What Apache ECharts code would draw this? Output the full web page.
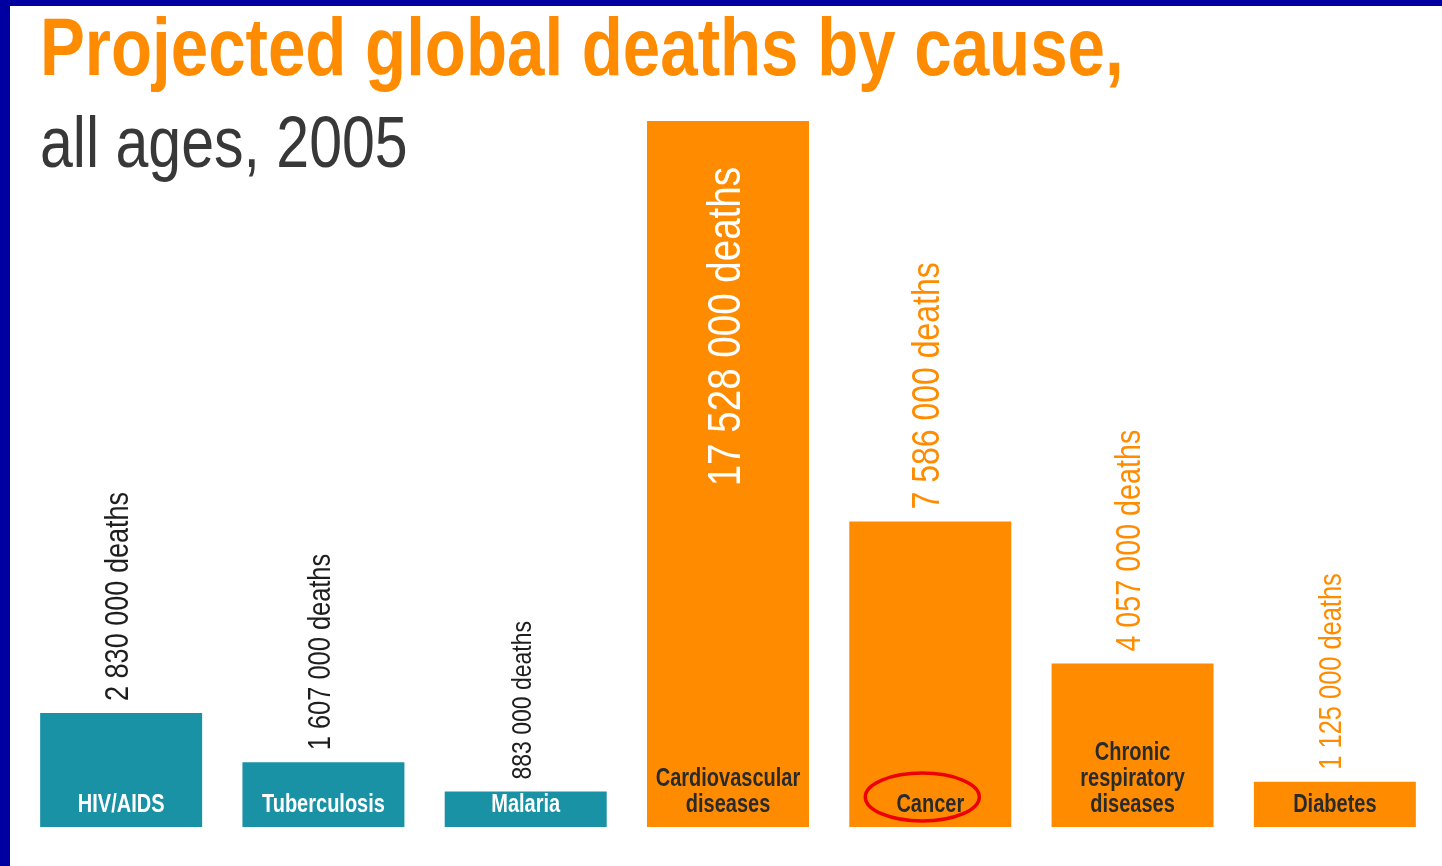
<!DOCTYPE html>
<html>
<head>
<meta charset="utf-8">
<script src="https://cdn.jsdelivr.net/npm/echarts@6/dist/echarts.min.js"></script>
<style>
  html, body { margin: 0; padding: 0; background: #fff; }
  #wrap { position: relative; width: 1442px; height: 866px; overflow: hidden; background: #fff; }
  #chart { position: absolute; left: 0; top: 0; width: 1442px; height: 866px; }
  #bt { position: absolute; left: 0; top: 0; width: 1442px; height: 6px; background: #0000A0; z-index: 5; }
  #bl { position: absolute; left: 0; top: 0; width: 10px; height: 866px; background: #0000A0; z-index: 5; }
</style>
</head>
<body>
<div id="wrap"><div id="chart"></div><div id="bt"></div><div id="bl"></div></div>
<script>
// ---- data ----
const titleText = 'Projected global deaths by cause,';
const subtitleText = 'all ages, 2005';
const categories = ['HIV/AIDS', 'Tuberculosis', 'Malaria', 'Cardiovascular\ndiseases', 'Cancer', 'Chronic\nrespiratory\ndiseases', 'Diabetes'];
const deaths = [2830000, 1607000, 883000, 17528000, 7586000, 4057000, 1125000];
const groups = ['communicable', 'communicable', 'communicable', 'chronic', 'chronic', 'chronic', 'chronic'];
const highlighted = 'Cancer';

// ---- styles ----
const TEAL = '#1A92A6';
const ORANGE = '#FF8C00';
const FONT = '"Liberation Sans", Arial, sans-serif';
const NARROW = 0.82;                       // horizontal squeeze to mimic a condensed face
const labelSizes = [33, 31, 28, 47, 39, 35, 31];

function fmt(v) {
  return String(v).replace(/\B(?=(\d{3})+(?!\d))/g, ' ') + ' deaths';
}

const maxIdx = deaths.indexOf(Math.max(...deaths));

const chart = echarts.init(document.getElementById('chart'), null, { renderer: 'canvas' });

const option = {
  backgroundColor: '#ffffff',
  animation: false,
  grid: { left: 20, right: 6, top: 121, bottom: 39, containLabel: false },
  xAxis: {
    type: 'category',
    data: categories,
    axisLine: { show: false },
    axisTick: { show: false },
    axisLabel: { show: false }
  },
  yAxis: { type: 'value', min: 0, max: 'dataMax', show: false, splitLine: { show: false } },
  series: [{
    type: 'bar',
    data: deaths.map((v, i) => ({
      value: v,
      itemStyle: { color: groups[i] === 'communicable' ? TEAL : ORANGE }
    })),
    barWidth: 162,
    z: 2
  }, {
    type: 'custom',
    data: deaths.map((v, i) => [i, v]),
    z: 5,
    silent: true,
    renderItem: function (params, api) {
      const i = api.value(0);
      const v = api.value(1);
      const top = api.coord([i, v]);
      const base = api.coord([i, 0]);
      const comm = groups[i] === 'communicable';
      const inside = i === maxIdx;
      const valueLabel = inside ? {
        type: 'text',
        x: top[0] - 1, y: top[1] + 46,
        rotation: Math.PI / 2, scaleX: NARROW,
        style: { text: fmt(v), fill: '#ffffff', font: labelSizes[i] + 'px ' + FONT,
                 align: 'right', verticalAlign: 'middle' }
      } : {
        type: 'text',
        x: top[0] - 2, y: top[1] - 12,
        rotation: Math.PI / 2, scaleX: NARROW,
        style: { text: fmt(v), fill: comm ? '#1e1e1e' : ORANGE, font: labelSizes[i] + 'px ' + FONT,
                 align: 'left', verticalAlign: 'middle' }
      };
      const catLabel = {
        type: 'text',
        x: base[0], y: base[1] - 9,
        scaleX: 0.80,
        style: { text: categories[i], fill: comm ? '#ffffff' : '#2a2a2a',
                 font: 'bold 25px ' + FONT, lineHeight: 26,
                 align: 'center', verticalAlign: 'bottom' }
      };
      return { type: 'group', children: [valueLabel, catLabel] };
    }
  }],
  graphic: [
    { id: 'title', type: 'text', x: 40, y: 11, scaleX: NARROW, z: 50,
      style: { text: titleText, fill: ORANGE, font: 'bold 82px ' + FONT, align: 'left', verticalAlign: 'top' } },
    { id: 'subtitle', type: 'text', x: 40, y: 111, scaleX: NARROW, z: 50,
      style: { text: subtitleText, fill: '#383838', font: '72px ' + FONT, align: 'left', verticalAlign: 'top' } }
  ]
};
chart.setOption(option);

// red annotation ellipse around the highlighted category name
const hiIdx = categories.indexOf(highlighted);
const p = chart.convertToPixel({ xAxisIndex: 0, yAxisIndex: 0 }, [hiIdx, 0]);
chart.setOption({
  graphic: [{
    id: 'highlight', type: 'ellipse', z: 100,
    shape: { cx: p[0] - 8, cy: p[1] - 30, rx: 57, ry: 24 },
    style: { fill: 'none', stroke: '#EE0000', lineWidth: 3.5 }
  }]
});
</script>
</body>
</html>
